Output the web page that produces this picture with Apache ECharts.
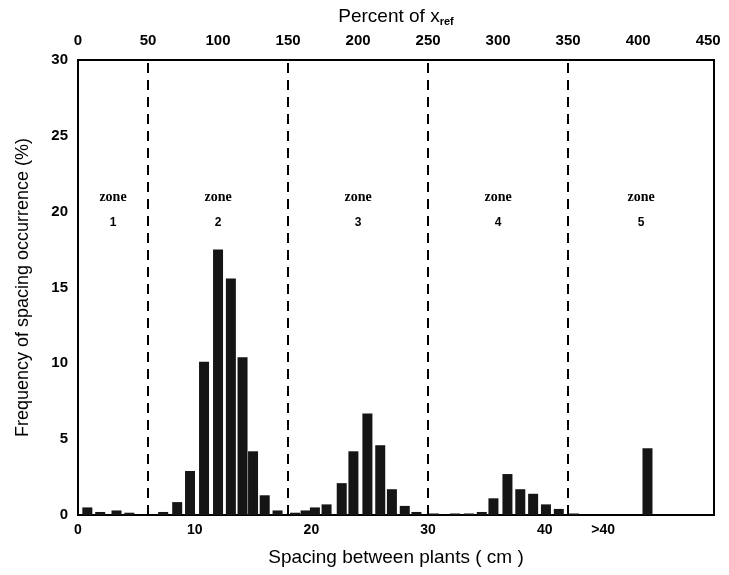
<!DOCTYPE html>
<html>
<head>
<meta charset="utf-8">
<script src="https://cdn.jsdelivr.net/npm/echarts@6/dist/echarts.min.js"></script>
<style>html,body{margin:0;padding:0;background:#fff;}#c{width:729px;height:575px;}</style>
</head>
<body>
<div id="c"></div>
<script>
// Spacing bin centres (cm) and frequency of occurrence (%)
const spacingCm = [0.8, 1.9, 3.3, 4.4, 7.3, 8.5, 9.6, 10.8, 12.0, 13.1, 14.1, 15.0, 16.0, 17.1, 18.6, 19.5,
  20.3, 21.3, 22.6, 23.6, 24.8, 25.9, 26.9, 28.0, 29.0, 30.5, 32.3, 33.5, 34.6, 35.6, 36.8, 37.9, 39.0, 40.1, 41.2, 42.5, 48.8];
const frequency = [0.5, 0.2, 0.3, 0.15, 0.2, 0.85, 2.9, 10.1, 17.5, 15.6, 10.4, 4.2, 1.3, 0.3, 0.15, 0.3,
  0.5, 0.7, 2.1, 4.2, 6.7, 4.6, 1.7, 0.6, 0.2, 0.1, 0.1, 0.1, 0.2, 1.1, 2.7, 1.7, 1.4, 0.7, 0.4, 0.1, 4.4];
// Zone boundaries (cm) = 50, 150, 250, 350 % of x_ref (x_ref = 12 cm)
const xRef = 12;
const zoneBoundsPct = [50, 150, 250, 350];
const zoneNames = ['1', '2', '3', '4', '5'];
const zoneCentersCm = [3, 12, 24, 36, 48.25];
const zoneLabelY = 20.2;
const xMaxCm = 54.5;
const bottomTickLabels = {0: '0', 10: '10', 20: '20', 30: '30', 40: '40', 45: '>40'};

const chart = echarts.init(document.getElementById('c'));
const font = 'Liberation Sans, Arial, sans-serif';
chart.setOption({
  animation: false,
  backgroundColor: '#fff',
  grid: {left: 78, right: 15, top: 60, bottom: 60, show: true, borderColor: '#000', borderWidth: 2,
    backgroundColor: 'transparent', containLabel: false, outerBoundsMode: 'none'},
  xAxis: [{
    type: 'value', min: 0, max: xMaxCm, interval: 5, position: 'bottom',
    axisLine: {show: true, lineStyle: {color: '#000', width: 2}},
    axisTick: {show: false}, splitLine: {show: false},
    axisLabel: {color: '#000', fontFamily: font, fontWeight: 'bold', fontSize: 14, margin: 8,
      formatter: v => bottomTickLabels[v] !== undefined ? bottomTickLabels[v] : '', showMaxLabel: false},
    name: 'Spacing between plants ( cm )', nameLocation: 'middle', nameGap: 33,
    nameTextStyle: {color: '#000', fontFamily: font, fontSize: 19}
  }, {
    type: 'value', min: 0, max: xMaxCm / xRef * 100, interval: 50, position: 'top',
    axisLine: {show: true, lineStyle: {color: '#000', width: 2}},
    axisTick: {show: false}, splitLine: {show: false},
    axisLabel: {color: '#000', fontFamily: font, fontWeight: 'bold', fontSize: 15, margin: 12, showMaxLabel: false},
    name: '{a|Percent of x}{s|ref}', nameLocation: 'middle', nameGap: 33,
    nameTextStyle: {rich: {a: {color: '#000', fontFamily: font, fontSize: 19}, s: {color: '#000', fontFamily: font, fontSize: 11, fontWeight: 'bold', padding: [10, 0, 0, 0]}}}
  }],
  yAxis: {
    type: 'value', min: 0, max: 30, interval: 5,
    axisLine: {show: true, lineStyle: {color: '#000', width: 2}},
    axisTick: {show: false}, splitLine: {show: false},
    axisLabel: {color: '#000', fontFamily: font, fontWeight: 'bold', fontSize: 15, margin: 10},
    name: 'Frequency of spacing occurrence (%)', nameLocation: 'middle', nameGap: 46,
    nameTextStyle: {color: '#000', fontFamily: font, fontSize: 18}
  },
  series: [{
    type: 'bar', xAxisIndex: 0, barWidth: 10,
    itemStyle: {color: '#151515'},
    data: spacingCm.map((x, i) => [x, frequency[i]]),
    markLine: {
      silent: true, symbol: 'none', label: {show: false},
      lineStyle: {color: '#000', width: 2, type: [10, 7]},
      data: zoneBoundsPct.map(p => ({xAxis: p / 100 * xRef}))
    }
  }, {
    type: 'scatter', xAxisIndex: 0, symbolSize: 0, silent: true,
    data: zoneCentersCm.map((x, i) => ({value: [x, zoneLabelY], name: zoneNames[i]})),
    label: {show: true, position: 'inside', color: '#000', opacity: 1, formatter: p => '{z|zone}\n{n|' + p.name + '}',
      rich: {z: {fontFamily: 'Liberation Serif, serif', fontSize: 14, fontWeight: 'bold', color: '#000', lineHeight: 28, align: 'center'},
             n: {fontFamily: font, fontSize: 12, fontWeight: 'bold', color: '#000', lineHeight: 22, align: 'center'}}}
  }]
});
</script>
</body>
</html>
